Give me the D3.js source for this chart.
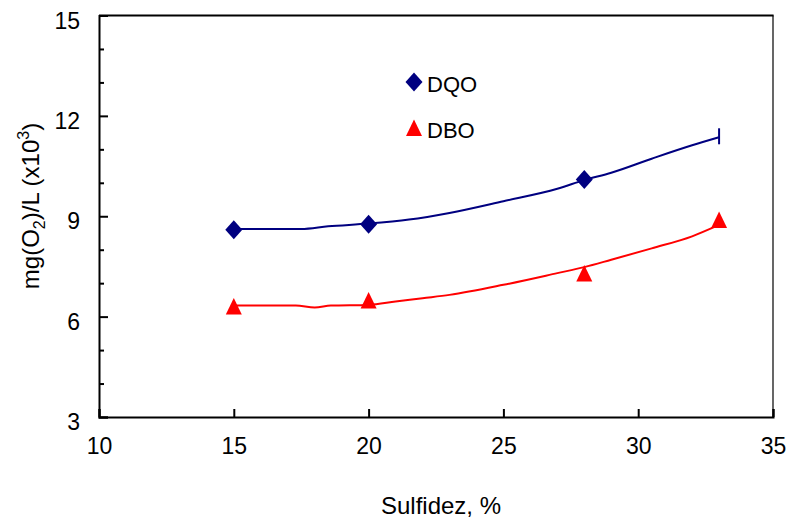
<!DOCTYPE html>
<html><head><meta charset="utf-8">
<script src="https://cdn.jsdelivr.net/npm/d3@7"></script>
<style>body{margin:0;background:#fff}svg{display:block;font-family:"Liberation Sans",Arial,sans-serif}</style>
</head><body><svg id="c" width="793" height="521"></svg>
<script>
// Data
const dqoX = [15, 20, 28];
const dqoY = [8.6, 8.76, 10.1];
const dqoEndX = [33];
const dqoEndY = [11.36];
const dboX = [15, 20, 28, 33];
const dboY = [6.3, 6.48, 7.29, 8.89];
// trend curves as read
const dqoCurveX = [15, 17.5, 18.5, 20, 21.5, 23, 25, 27, 28, 29, 30.5, 32, 33];
const dqoCurveY = [8.62, 8.62, 8.70, 8.78, 8.90, 9.10, 9.45, 9.82, 10.08, 10.30, 10.72, 11.12, 11.36];
const dboCurveX = [15, 17.3, 18, 18.6, 20, 21, 22, 23, 25, 27, 28, 29, 30.5, 32, 33];
const dboCurveY = [6.33, 6.33, 6.27, 6.33, 6.35, 6.45, 6.55, 6.65, 6.95, 7.3, 7.48, 7.7, 8.04, 8.4, 8.74];
const xTicks = [10, 15, 20, 25, 30, 35];
const yTicks = [3, 6, 9, 12, 15];
const yMinor = [4, 5, 7, 8, 10, 11, 13, 14];
const seriesNames = ["DQO", "DBO"];

const svg = d3.select("#c");
const L = 99, R = 773, T = 15.5, B = 417;
const x = d3.scaleLinear().domain([10, 35]).range([L, R]);
const y = d3.scaleLinear().domain([3, 15]).range([B, T]);
const navy = "#000080", red = "#ff0000";

// frame
svg.append("line").attr("x1", R).attr("x2", R).attr("y1", T).attr("y2", B).attr("stroke", "#000").attr("stroke-width", 1.2);
svg.append("line").attr("x1", L).attr("x2", R+0.6).attr("y1", T).attr("y2", T).attr("stroke", "#000").attr("stroke-width", 2);

// axes
const yAxis = d3.axisLeft(y).tickValues(yTicks).tickSize(-9).tickPadding(0).tickFormat(d3.format("d"));
const gy = svg.append("g").attr("transform", `translate(${L},0)`).call(yAxis);
gy.select(".domain").attr("stroke-width", 2);
gy.selectAll(".tick line").attr("stroke-width", 2);
gy.selectAll(".tick text").attr("x", -19).attr("dy", "0.55em").attr("font-size", 23).attr("fill", "#000");
svg.append("g").attr("transform", `translate(${L},0)`)
  .call(d3.axisLeft(y).tickValues(yMinor).tickSize(-5).tickFormat(""))
  .call(g => { g.select(".domain").remove(); g.selectAll(".tick line").attr("stroke-width", 2); });

const xAxis = d3.axisBottom(x).tickValues(xTicks).tickSize(-8).tickPadding(0).tickFormat(d3.format("d"));
const gx = svg.append("g").attr("transform", `translate(0,${B})`).call(xAxis);
gx.select(".domain").attr("stroke-width", 2);
gx.selectAll(".tick line").attr("stroke-width", 2);
gx.selectAll(".tick text").attr("y", 21).attr("dy", "0.71em").attr("font-size", 23).attr("fill", "#000");

// titles
svg.append("text").attr("x", 441).attr("y", 514).attr("text-anchor", "middle").attr("font-size", 24).text("Sulfidez, %");
const yt = svg.append("text").attr("transform", "translate(39,206) rotate(-90)").attr("text-anchor", "middle").attr("font-size", 24);
yt.append("tspan").text("mg(O");
yt.append("tspan").attr("font-size", 16).attr("dy", 6).text("2");
yt.append("tspan").attr("dy", -6).text(")/L (x10");
yt.append("tspan").attr("font-size", 16).attr("dy", -10).text("3");
yt.append("tspan").attr("dy", 10).text(")");

// lines
const line = d3.line().x(d => x(d[0])).y(d => y(d[1])).curve(d3.curveMonotoneX);
svg.append("path").attr("d", line(d3.zip(dqoCurveX, dqoCurveY))).attr("fill", "none").attr("stroke", navy).attr("stroke-width", 2);
svg.append("path").attr("d", line(d3.zip(dboCurveX, dboCurveY))).attr("fill", "none").attr("stroke", red).attr("stroke-width", 2);

// marker symbols
const diamondType = { draw(ctx, size) { const w = 8.5, h = 9.5; ctx.moveTo(0, -h); ctx.lineTo(w, 0); ctx.lineTo(0, h); ctx.lineTo(-w, 0); ctx.closePath(); } };
const triType = { draw(ctx, size) { ctx.moveTo(0, -8.5); ctx.lineTo(8, 8); ctx.lineTo(-8, 8); ctx.closePath(); } };
const diamond = d3.symbol().type(diamondType)();
const tri = d3.symbol().type(triType)();

svg.append("g").selectAll("path").data(d3.zip(dqoX, dqoY)).join("path")
  .attr("d", diamond).attr("fill", navy).attr("transform", d => `translate(${x(d[0])},${y(d[1])})`);
svg.append("g").selectAll("line").data(d3.zip(dqoEndX, dqoEndY)).join("line")
  .attr("x1", d => x(d[0])).attr("x2", d => x(d[0])).attr("y1", d => y(d[1]) - 9).attr("y2", d => y(d[1]) + 7)
  .attr("stroke", navy).attr("stroke-width", 2);
svg.append("g").selectAll("path").data(d3.zip(dboX, dboY)).join("path")
  .attr("d", tri).attr("fill", red).attr("transform", d => `translate(${x(d[0])},${y(d[1])})`);

// legend
const lg = svg.append("g");
lg.append("path").attr("d", diamond).attr("fill", navy).attr("transform", "translate(414,82)");
lg.append("text").attr("x", 427).attr("y", 92).attr("font-size", 22).text(seriesNames[0]);
lg.append("path").attr("d", tri).attr("fill", red).attr("transform", "translate(414,128)");
lg.append("text").attr("x", 427).attr("y", 137.5).attr("font-size", 22).text(seriesNames[1]);
</script></body></html>
